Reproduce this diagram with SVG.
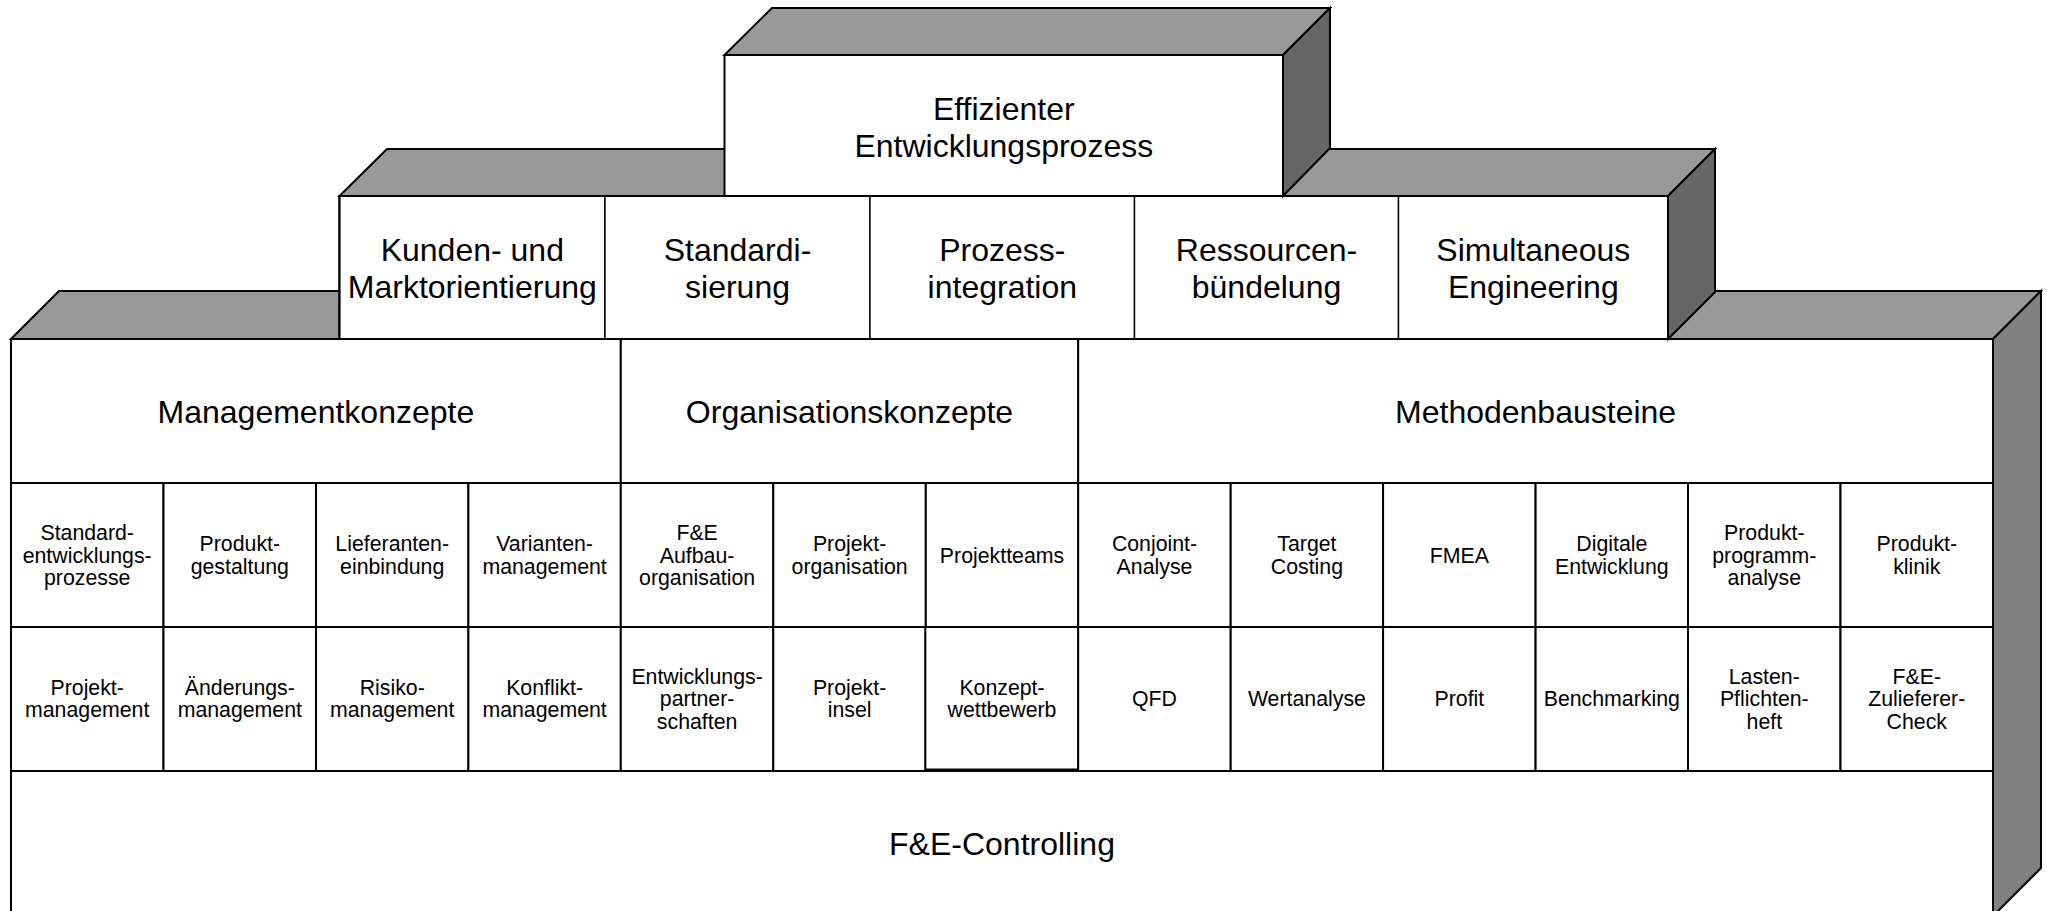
<svg xmlns="http://www.w3.org/2000/svg" width="2047" height="911" viewBox="0 0 2047 911">
<style>
.top{fill:#999999;stroke:#000;stroke-width:2;stroke-linejoin:miter}
.side{fill:#666666;stroke:#000;stroke-width:2}
.side2{fill:#808080;stroke:#000;stroke-width:2}
.front{fill:#fff;stroke:#000;stroke-width:2}
.cell{fill:#fff;stroke:#000;stroke-width:2}
.pcell{fill:#fff;stroke:#000;stroke-width:1.4}
.big{font-family:"Liberation Sans",Arial,sans-serif;font-size:32px;fill:#000;text-anchor:middle}
.sm{font-family:"Liberation Sans",Arial,sans-serif;font-size:21.3px;fill:#000;text-anchor:middle}
</style>

<!-- Base block -->
<g id="base-block">
<polygon class="top" points="11,339 59,291 2041,291 1993,339"/>
<polygon class="side2" points="1993,339 2041,291 2041,868 1993,916"/>
<rect class="front" x="11" y="339" width="1982" height="577"/>
</g>

<g id="managementkonzepte"><rect class="cell" x="11" y="339" width="609.8" height="144"/><text class="big" x="315.9" y="422.5">Managementkonzepte</text></g>
<g id="organisationskonzepte"><rect class="cell" x="620.8" y="339" width="457.4" height="144"/><text class="big" x="849.5" y="422.5">Organisationskonzepte</text></g>
<g id="methodenbausteine"><rect class="cell" x="1078.2" y="339" width="914.8" height="144"/><text class="big" x="1535.6" y="422.5">Methodenbausteine</text></g>

<!-- Row 1 -->
<g id="standardentwicklungsprozesse"><rect class="cell" x="11" y="483" width="152.5" height="144"/><text class="sm"><tspan x="87.2" y="540.1">Standard-</tspan><tspan x="87.2" y="562.6">entwicklungs-</tspan><tspan x="87.2" y="585.1">prozesse</tspan></text></g>
<g id="produktgestaltung"><rect class="cell" x="163.5" y="483" width="152.5" height="144"/><text class="sm"><tspan x="239.8" y="551.4">Produkt-</tspan><tspan x="239.8" y="573.9">gestaltung</tspan></text></g>
<g id="lieferanteneinbindung"><rect class="cell" x="316" y="483" width="152.4" height="144"/><text class="sm"><tspan x="392.2" y="551.4">Lieferanten-</tspan><tspan x="392.2" y="573.9">einbindung</tspan></text></g>
<g id="variantenmanagement"><rect class="cell" x="468.4" y="483" width="152.4" height="144"/><text class="sm"><tspan x="544.6" y="551.4">Varianten-</tspan><tspan x="544.6" y="573.9">management</tspan></text></g>
<g id="fe-aufbauorganisation"><rect class="cell" x="620.8" y="483" width="152.5" height="144"/><text class="sm"><tspan x="697.1" y="540.1">F&amp;E</tspan><tspan x="697.1" y="562.6">Aufbau-</tspan><tspan x="697.1" y="585.1">organisation</tspan></text></g>
<g id="projektorganisation"><rect class="cell" x="773.3" y="483" width="152.5" height="144"/><text class="sm"><tspan x="849.6" y="551.4">Projekt-</tspan><tspan x="849.6" y="573.9">organisation</tspan></text></g>
<g id="projektteams"><rect class="cell" x="925.8" y="483" width="152.4" height="144"/><text class="sm" x="1002" y="562.6">Projektteams</text></g>
<g id="conjoint-analyse"><rect class="cell" x="1078.2" y="483" width="152.5" height="144"/><text class="sm"><tspan x="1154.5" y="551.4">Conjoint-</tspan><tspan x="1154.5" y="573.9">Analyse</tspan></text></g>
<g id="target-costing"><rect class="cell" x="1230.7" y="483" width="152.4" height="144"/><text class="sm"><tspan x="1306.9" y="551.4">Target</tspan><tspan x="1306.9" y="573.9">Costing</tspan></text></g>
<g id="fmea"><rect class="cell" x="1383.1" y="483" width="152.5" height="144"/><text class="sm" x="1459.4" y="562.6">FMEA</text></g>
<g id="digitale-entwicklung"><rect class="cell" x="1535.6" y="483" width="152.4" height="144"/><text class="sm"><tspan x="1611.8" y="551.4">Digitale</tspan><tspan x="1611.8" y="573.9">Entwicklung</tspan></text></g>
<g id="produktprogrammanalyse"><rect class="cell" x="1688" y="483" width="152.5" height="144"/><text class="sm"><tspan x="1764.3" y="540.1">Produkt-</tspan><tspan x="1764.3" y="562.6">programm-</tspan><tspan x="1764.3" y="585.1">analyse</tspan></text></g>
<g id="produktklinik"><rect class="cell" x="1840.5" y="483" width="152.5" height="144"/><text class="sm"><tspan x="1916.8" y="551.4">Produkt-</tspan><tspan x="1916.8" y="573.9">klinik</tspan></text></g>

<!-- Row 2 -->
<g id="projektmanagement"><rect class="cell" x="11" y="627" width="152.5" height="144"/><text class="sm"><tspan x="87.2" y="694.9">Projekt-</tspan><tspan x="87.2" y="717.4">management</tspan></text></g>
<g id="aenderungsmanagement"><rect class="cell" x="163.5" y="627" width="152.5" height="144"/><text class="sm"><tspan x="239.8" y="694.9">Änderungs-</tspan><tspan x="239.8" y="717.4">management</tspan></text></g>
<g id="risikomanagement"><rect class="cell" x="316" y="627" width="152.4" height="144"/><text class="sm"><tspan x="392.2" y="694.9">Risiko-</tspan><tspan x="392.2" y="717.4">management</tspan></text></g>
<g id="konfliktmanagement"><rect class="cell" x="468.4" y="627" width="152.4" height="144"/><text class="sm"><tspan x="544.6" y="694.9">Konflikt-</tspan><tspan x="544.6" y="717.4">management</tspan></text></g>
<g id="entwicklungspartnerschaften"><rect class="cell" x="620.8" y="627" width="152.5" height="144"/><text class="sm"><tspan x="697.1" y="683.6">Entwicklungs-</tspan><tspan x="697.1" y="706.1">partner-</tspan><tspan x="697.1" y="728.6">schaften</tspan></text></g>
<g id="projektinsel"><rect class="cell" x="773.3" y="627" width="152.5" height="144"/><text class="sm"><tspan x="849.6" y="694.9">Projekt-</tspan><tspan x="849.6" y="717.4">insel</tspan></text></g>
<g id="konzeptwettbewerb"><rect class="cell" x="925.3" y="627" width="152.9" height="142.5"/><text class="sm"><tspan x="1002" y="694.9">Konzept-</tspan><tspan x="1002" y="717.4">wettbewerb</tspan></text></g>
<g id="qfd"><rect class="cell" x="1078.2" y="627" width="152.5" height="144"/><text class="sm" x="1154.5" y="706">QFD</text></g>
<g id="wertanalyse"><rect class="cell" x="1230.7" y="627" width="152.4" height="144"/><text class="sm" x="1306.9" y="706">Wertanalyse</text></g>
<g id="profit"><rect class="cell" x="1383.1" y="627" width="152.5" height="144"/><text class="sm" x="1459.4" y="706">Profit</text></g>
<g id="benchmarking"><rect class="cell" x="1535.6" y="627" width="152.4" height="144"/><text class="sm" x="1611.8" y="706">Benchmarking</text></g>
<g id="lasten-pflichtenheft"><rect class="cell" x="1688" y="627" width="152.5" height="144"/><text class="sm"><tspan x="1764.3" y="683.6">Lasten-</tspan><tspan x="1764.3" y="706.1">Pflichten-</tspan><tspan x="1764.3" y="728.6">heft</tspan></text></g>
<g id="fe-zulieferer-check"><rect class="cell" x="1840.5" y="627" width="152.5" height="144"/><text class="sm"><tspan x="1916.8" y="683.6">F&amp;E-</tspan><tspan x="1916.8" y="706.1">Zulieferer-</tspan><tspan x="1916.8" y="728.6">Check</tspan></text></g>

<g id="fe-controlling"><rect class="cell" x="11" y="771" width="1982" height="145"/><text class="big" x="1002" y="855">F&amp;E-Controlling</text></g>

<!-- Middle block -->
<g id="middle-block">
<polygon class="top" points="339.5,196 387,149 1715,149 1668,196"/>
<polygon class="side" points="1668,196 1715,149 1715,292 1668,339"/>
<rect class="front" x="339.5" y="196" width="1328.5" height="143"/>
</g>
<g id="kunden-marktorientierung"><rect class="pcell" x="339.5" y="196" width="265.5" height="143"/><text class="big"><tspan x="472.3" y="260.5">Kunden- und</tspan><tspan x="472.3" y="297.5">Marktorientierung</tspan></text></g>
<g id="standardisierung"><rect class="pcell" x="605" y="196" width="265" height="143"/><text class="big"><tspan x="737.5" y="260.5">Standardi-</tspan><tspan x="737.5" y="297.5">sierung</tspan></text></g>
<g id="prozessintegration"><rect class="pcell" x="870" y="196" width="264.5" height="143"/><text class="big"><tspan x="1002.3" y="260.5">Prozess-</tspan><tspan x="1002.3" y="297.5">integration</tspan></text></g>
<g id="ressourcenbuendelung"><rect class="pcell" x="1134.5" y="196" width="264" height="143"/><text class="big"><tspan x="1266.5" y="260.5">Ressourcen-</tspan><tspan x="1266.5" y="297.5">bündelung</tspan></text></g>
<g id="simultaneous-engineering"><rect class="pcell" x="1398.5" y="196" width="269.5" height="143"/><text class="big"><tspan x="1533.3" y="260.5">Simultaneous</tspan><tspan x="1533.3" y="297.5">Engineering</tspan></text></g>
<rect x="339.5" y="196" width="1328.5" height="143" fill="none" stroke="#000" stroke-width="2"/>

<!-- Top block -->
<g id="effizienter-entwicklungsprozess">
<polygon class="top" points="724.5,55 772,8 1330,8 1283,55"/>
<polygon class="side" points="1283,55 1330,8 1330,148 1283,196"/>
<rect class="front" x="724.5" y="55" width="558.5" height="141"/>
<text class="big"><tspan x="1003.8" y="119.5">Effizienter</tspan><tspan x="1003.8" y="156.5">Entwicklungsprozess</tspan></text>
</g>

<g id="connectors"></g>
</svg>
